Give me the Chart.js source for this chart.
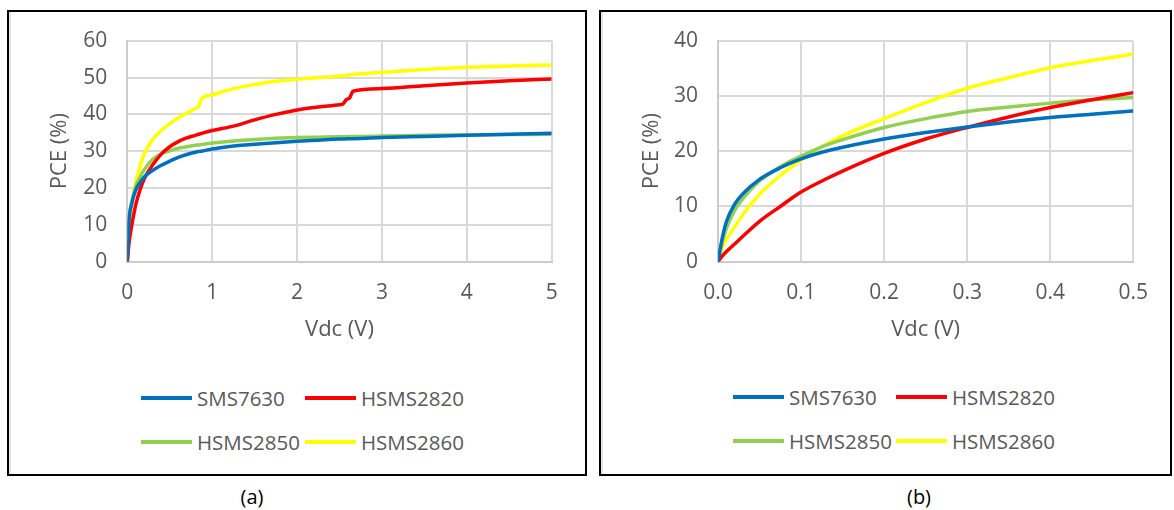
<!DOCTYPE html>
<html>
<head>
<meta charset="utf-8">
<script src="https://cdn.jsdelivr.net/npm/chart.js@4.4.0/dist/chart.umd.min.js"></script>
<style>
  html, body { margin: 0; padding: 0; background: #fff; }
  body { width: 1174px; height: 510px; position: relative; overflow: hidden; font-family: 'Open Sans', sans-serif; }
  .frame { position: absolute; border: 2px solid #000; box-sizing: border-box; box-shadow: inset 2px 0 0 #e6e6e6; }
  canvas { position: absolute; }
  .legend-item { position: absolute; height: 24px; line-height: 24px; display: flex; align-items: center; color: #595959; font-size: 20.5px; white-space: nowrap; }
  .legend-item .swatch { display: inline-block; width: 51px; height: 4px; margin-right: 5px; }
  .caption { position: absolute; font-size: 20px; color: #000; transform: translateX(-50%); }
</style>
</head>
<body>
<div class="frame" style="left:7px; top:10px; width:580px; height:466px;"></div>
<div class="frame" style="left:599px; top:10px; width:573px; height:466px;"></div>
<canvas id="chartA" width="590" height="350" style="left:0px; top:0px;"></canvas>
<canvas id="chartB" width="584" height="350" style="left:590px; top:0px;"></canvas>
<div id="legendA"></div>
<div id="legendB"></div>
<div class="caption" style="left:252px; top:483px;">(a)</div>
<div class="caption" style="left:919px; top:483px;">(b)</div>

<script>
        // --- DATA ---
        const seriesNames = ['SMS7630', 'HSMS2820', 'HSMS2850', 'HSMS2860'];

        // Panel (a): Vdc 0 - 5 V
        const vdcA = [0, 0.02, 0.05, 0.1, 0.15, 0.2, 0.3, 0.4, 0.5, 0.6, 0.7, 0.8, 0.84, 0.87, 1.0,
                      1.25, 1.5, 1.75, 2.0, 2.25, 2.5, 2.54, 2.58, 2.62, 2.66, 3.0, 3.5, 4.0, 4.5, 5.0];
        const pceA_SMS7630  = [0, 11, 15.5, 19.5, 21.5, 23, 24.8, 26.2, 27.3, 28.3, 29.1, 29.7, 29.9, 30.0, 30.6,
                               31.4, 31.9, 32.3, 32.7, 33.0, 33.3, 33.3, 33.35, 33.4, 33.4, 33.7, 34.0, 34.3, 34.6, 34.9];
        const pceA_HSMS2820 = [0, 5, 9.5, 15.5, 19.5, 22.5, 26.3, 29.2, 31.2, 32.6, 33.6, 34.3, 34.6, 34.8, 35.6,
                               36.8, 38.5, 40.0, 41.2, 42.0, 42.6, 42.8, 44.0, 44.5, 46.3, 47.0, 47.8, 48.5, 49.1, 49.6];
        const pceA_HSMS2850 = [0, 11, 16, 20.5, 23, 25, 27.8, 29.3, 30.1, 30.8, 31.2, 31.6, 31.7, 31.8, 32.2,
                               32.8, 33.2, 33.5, 33.7, 33.8, 33.9, 33.9, 33.95, 34.0, 34.0, 34.1, 34.3, 34.4, 34.5, 34.6];
        const pceA_HSMS2860 = [0, 9, 15, 21.5, 25.8, 29.3, 33.2, 35.6, 37.5, 39.0, 40.3, 41.6, 42.1, 44.1, 45.3,
                               47.0, 48.1, 49.0, 49.5, 50.0, 50.4, 50.5, 50.6, 50.7, 50.8, 51.4, 52.2, 52.8, 53.1, 53.4];

        // Panel (b): Vdc 0 - 0.5 V
        const vdcB = [0, 0.005, 0.01, 0.02, 0.03, 0.05, 0.075, 0.1, 0.125, 0.15, 0.2, 0.25, 0.3, 0.35, 0.4, 0.45, 0.5];
        const pceB_SMS7630  = [0, 4.2, 7.2, 10.4, 12.3, 14.9, 17.0, 18.6, 19.8, 20.7, 22.2, 23.4, 24.4, 25.3, 26.1, 26.7, 27.3];
        const pceB_HSMS2820 = [0, 1.0, 1.8, 3.2, 4.6, 7.3, 10.0, 12.6, 14.6, 16.4, 19.6, 22.2, 24.3, 26.2, 27.9, 29.3, 30.6];
        const pceB_HSMS2850 = [0, 3.5, 6.0, 9.3, 11.4, 14.6, 17.2, 19.1, 20.8, 22.1, 24.3, 25.9, 27.2, 28.0, 28.7, 29.3, 29.7];
        const pceB_HSMS2860 = [0, 2.5, 4.0, 6.3, 8.5, 12.2, 15.6, 18.4, 20.8, 22.8, 25.9, 28.8, 31.4, 33.3, 35.1, 36.4, 37.6];

        // --- STYLE ---
        const seriesColors = ['#0070C0', '#FF0000', '#92D050', '#FFFF00'];
        const textGray = '#595959';
        const tickFont = { family: "'Open Sans', sans-serif", size: 21 };
        const titleFont = { family: "'Open Sans', sans-serif", size: 22 };

        // --- HELPERS ---
        const toPoints = (xs, ys) => xs.map((x, i) => ({ x: x, y: ys[i] }));

        function buildDatasets(xs, seriesValues) {
            return seriesValues.map((ys, i) => ({
                label: seriesNames[i],
                data: toPoints(xs, ys),
                borderColor: seriesColors[i],
                backgroundColor: seriesColors[i],
                borderWidth: 3.5,
                pointRadius: 0,
                fill: false,
                cubicInterpolationMode: 'monotone'
            }));
        }

        function makeOptions(cfg) {
            return {
                responsive: false,
                animation: false,
                layout: { padding: { left: 0, top: cfg.top, right: cfg.right, bottom: 0 } },
                plugins: { legend: { display: false }, tooltip: { enabled: false } },
                scales: {
                    x: {
                        type: 'linear', min: cfg.xMin, max: cfg.xMax,
                        ticks: { stepSize: cfg.xStep, autoSkip: false, maxRotation: 0, padding: 19, color: textGray, font: tickFont, callback: cfg.xFormat },
                        grid: { color: '#d9d9d9', lineWidth: 2, drawTicks: false },
                        border: { color: '#cccccc', width: 2 },
                        title: { display: true, text: 'Vdc (V)', color: textGray, font: titleFont, padding: { top: 0, bottom: 7 } },
                        afterFit: (scale) => { scale.height = cfg.xAxisH; }
                    },
                    y: {
                        type: 'linear', min: cfg.yMin, max: cfg.yMax,
                        ticks: { stepSize: 10, padding: 20, color: textGray, font: tickFont },
                        grid: { color: '#d9d9d9', lineWidth: 2, drawTicks: false },
                        border: { color: '#cccccc', width: 2 },
                        title: { display: true, text: 'PCE (%)', color: textGray, font: titleFont, padding: { top: cfg.yTitlePad, bottom: 0 } },
                        afterFit: (scale) => { scale.width = cfg.yAxisW; }
                    }
                }
            };
        }

        function buildLegend(containerId, datasets, colX, rowY) {
            const box = document.getElementById(containerId);
            datasets.forEach((ds, i) => {
                const item = document.createElement('div');
                item.className = 'legend-item';
                item.style.left = Math.round(colX[i % 2]) + 'px';
                item.style.top = Math.round(rowY[Math.floor(i / 2)] - 12) + 'px';
                const sw = document.createElement('span');
                sw.className = 'swatch';
                sw.style.background = ds.borderColor;
                const tx = document.createElement('span');
                tx.textContent = ds.label;
                item.appendChild(sw);
                item.appendChild(tx);
                box.appendChild(item);
            });
        }

        // --- CHARTS ---
        const chartA = new Chart(document.getElementById('chartA').getContext('2d'), {
            type: 'line',
            data: { datasets: buildDatasets(vdcA, [pceA_SMS7630, pceA_HSMS2820, pceA_HSMS2850, pceA_HSMS2860]) },
            options: makeOptions({
                top: 40.7, right: 38.3, xAxisH: 88.3, yAxisW: 127.3, yTitlePad: 47,
                xMin: 0, xMax: 5, xStep: 1, yMin: 0, yMax: 60,
                xFormat: (v) => v
            })
        });

        const chartB = new Chart(document.getElementById('chartB').getContext('2d'), {
            type: 'line',
            data: { datasets: buildDatasets(vdcB, [pceB_SMS7630, pceB_HSMS2820, pceB_HSMS2850, pceB_HSMS2860]) },
            options: makeOptions({
                top: 40.7, right: 40.7, xAxisH: 88.3, yAxisW: 128, yTitlePad: 48.5,
                xMin: 0, xMax: 0.5, xStep: 0.1, yMin: 0, yMax: 40,
                xFormat: (v) => Number(v).toFixed(1)
            })
        });

        buildLegend('legendA', chartA.data.datasets, [141, 305], [398, 442]);
        buildLegend('legendB', chartB.data.datasets, [733, 896], [397, 441]);
</script>
</body>
</html>
